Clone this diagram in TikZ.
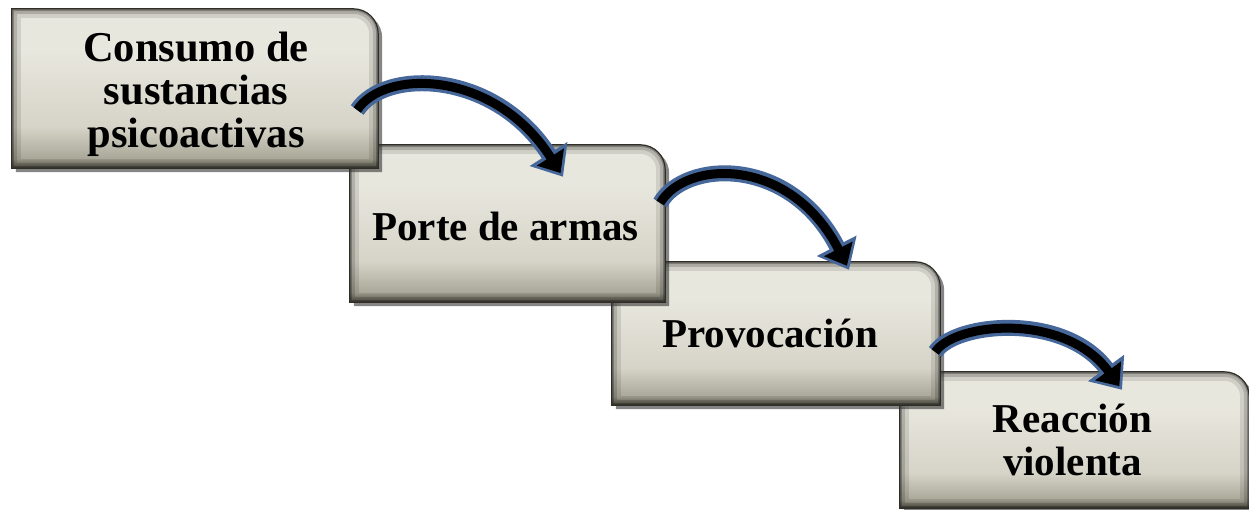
\documentclass[tikz,border=0pt]{standalone}
\usepackage{fontspec}
\setmainfont{Liberation Serif}
\usetikzlibrary{arrows.meta,shadows,backgrounds,calc}
\definecolor{arrowblue}{HTML}{46679A}
\definecolor{boxline}{HTML}{2E2D26}
\definecolor{bc1}{HTML}{5E5C50}
\definecolor{bc2}{HTML}{A9A797}
\definecolor{bc3}{HTML}{D6D4C8}
\definecolor{bc4}{HTML}{E8E7DE}
\definecolor{bc5}{HTML}{D9D7CB}
\pgfdeclareverticalshading{boxshade}{100bp}{color(0bp)=(bc1); color(25bp)=(bc1); color(28bp)=(bc2); color(38bp)=(bc3); color(62bp)=(bc4); color(73bp)=(bc4); color(75bp)=(bc5); color(100bp)=(bc5)}
\newcommand\bxpath[1]{(#1.south west) -- (#1.north west) -- ([xshift=-25pt]#1.north east) .. controls ([xshift=-11pt]#1.north east) and ([yshift=-11pt]#1.north east) .. ([yshift=-25pt]#1.north east) -- (#1.south east) -- cycle}
\newcommand\drawbox[1]{%
  \shade[shading=boxshade, drop shadow={shadow xshift=4pt,shadow yshift=-4pt,opacity=.6,fill=black!80}] \bxpath{#1};
  \begin{scope}
    \clip \bxpath{#1};
    \draw[line width=18pt, black, opacity=.10] \bxpath{#1};
    \draw[line width=10pt, black, opacity=.15] \bxpath{#1};
    \draw[line width=4pt, black, opacity=.25] \bxpath{#1};
  \end{scope}
  \draw[boxline, line width=1.2pt] \bxpath{#1};
}
\tikzset{
  boxnode/.style={inner sep=0pt, draw=none},
  txt/.style={inner sep=0pt, align=center, font=\fontsize{41}{43}\selectfont\bfseries},
  arrout/.style={arrowblue, line width=16pt, -{Triangle[length=27pt,width=43pt]}},
  arrin/.style={black, line width=9pt, shorten >=4.5pt, -{Triangle[length=19pt,width=31pt]}}
}
\begin{document}
\begin{tikzpicture}[x=1pt,y=-1pt]
\useasboundingbox (0,0) rectangle (1249,510);
\node[boxnode, minimum width=366pt, minimum height=159pt] (b1) at (195,88.5) {};
\node[boxnode, minimum width=315pt, minimum height=157pt] (b2) at (507.5,223.5) {};
\node[boxnode, minimum width=328pt, minimum height=143pt] (b3) at (776,333.5) {};
\node[boxnode, minimum width=349pt, minimum height=136pt] (b4) at (1074.5,440) {};
\node[txt, font=\fontsize{42.5}{43}\selectfont\bfseries] (t1) at ([shift={(1,6)}]b1.center) {Consumo de\\sustancias\\psicoactivas};
\node[txt] (t2) at ([shift={(-2,3)}]b2.center) {Porte de armas};
\node[txt] (t3) at ([shift={(-6,0)}]b3.center) {Provocación};
\node[txt] (t4) at ([shift={(-2,0)}]b4.center) {Reacción\\violenta};
\begin{scope}[on background layer]
  \drawbox{b4}
  \drawbox{b3}
  \drawbox{b2}
  \drawbox{b1}
\end{scope}
% arrows
\draw[arrout] ([shift={(-21,21.5)}]b1.east) .. controls (385,68) and (495,70) .. ([shift={(55.5,32)}]b2.north);
\draw[arrin] ([shift={(-21,21.5)}]b1.east) .. controls (385,68) and (495,70) .. ([shift={(55.5,32)}]b2.north);
\draw[arrout] ([shift={(-5,-20.5)}]b2.east) .. controls (685,160) and (790,155) .. ([shift={(73,8)}]b3.north);
\draw[arrin] ([shift={(-5,-20.5)}]b2.east) .. controls (685,160) and (790,155) .. ([shift={(73,8)}]b3.north);
\draw[arrout] ([shift={(-5,18.5)}]b3.east) .. controls (955,322) and (1065,312) .. ([shift={(47.5,18)}]b4.north);
\draw[arrin] ([shift={(-5,18.5)}]b3.east) .. controls (955,322) and (1065,312) .. ([shift={(47.5,18)}]b4.north);
\end{tikzpicture}
\end{document}
